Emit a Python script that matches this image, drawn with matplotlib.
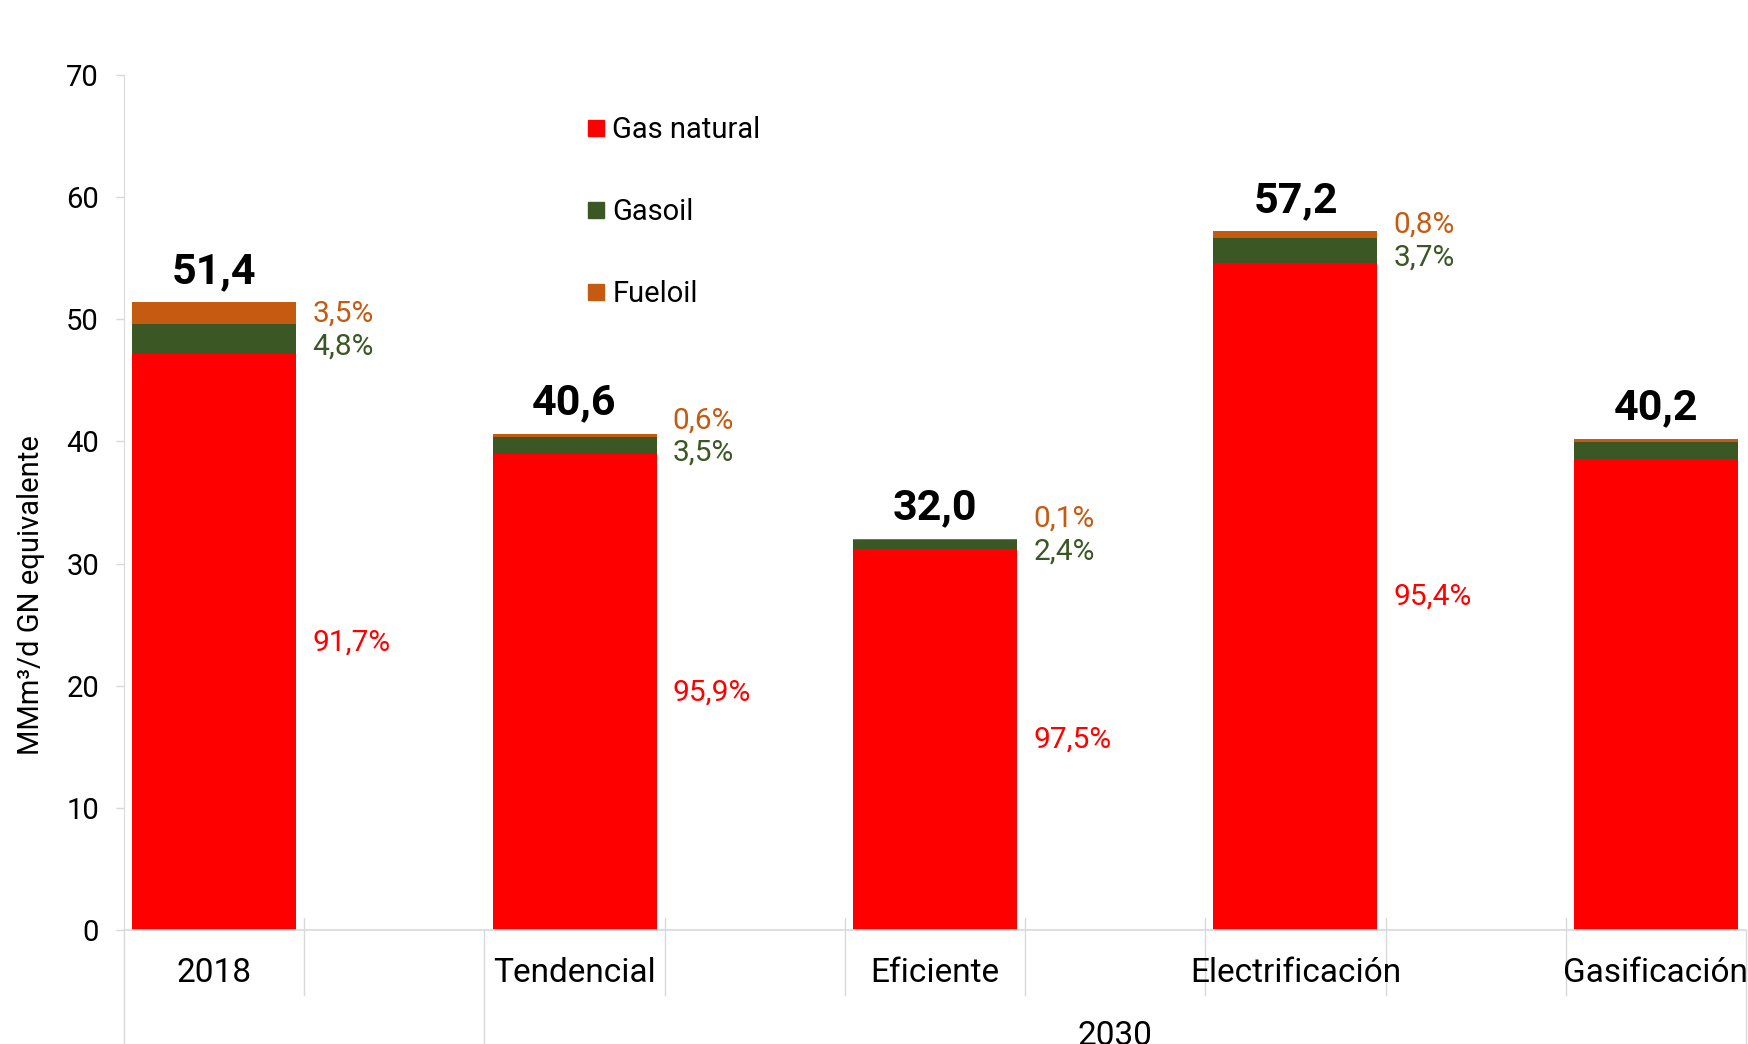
import matplotlib.pyplot as plt
from matplotlib.lines import Line2D
import numpy as np

plt.rcParams['font.family'] = ['Roboto', 'DejaVu Sans']

# data
categories = ["2018", "Tendencial", "Eficiente", "Electrificación", "Gasificación"]
totals = [51.4, 40.6, 32.0, 57.2, 40.2]
share_gn = [91.7, 95.9, 97.5, 95.4, 96.0]
share_gasoil = [4.8, 3.5, 2.4, 3.7, 3.3]
share_fueloil = [3.5, 0.6, 0.1, 0.8, 0.7]
show_pct = [True, True, True, True, False]   # last bar's labels fall outside the crop
group_labels = ["2030"]

series = ["Gas natural", "Gasoil", "Fueloil"]
colors = ["#FF0000", "#3B5724", "#C55A11"]

totals = np.array(totals)
gn = totals * np.array(share_gn) / 100
gasoil = totals * np.array(share_gasoil) / 100
fueloil = totals - gn - gasoil

W, H = 1748, 1044
fig = plt.figure(figsize=(W / 100, H / 100), dpi=100)
ax = fig.add_axes([124 / W, 1 - 930 / H, 1622 / W, 855 / H])

# one blank slot after each bar for the labels
x = np.arange(len(categories)) * 2
bw = 0.91
ax.bar(x, gn, bw, color=colors[0], label=series[0])
ax.bar(x, gasoil, bw, bottom=gn, color=colors[1], label=series[1])
ax.bar(x, fueloil, bw, bottom=gn + gasoil, color=colors[2], label=series[2])

ax.set_xlim(-0.5, 2 * len(categories) - 1.5)
ax.set_ylim(0, 70)
ax.set_yticks(range(0, 71, 10))
ax.tick_params(axis='y', labelsize=21, length=6, width=1, color="#D9D9D9", pad=12)
ax.set_xticks([])
for s in ["top", "right"]:
    ax.spines[s].set_visible(False)
ax.spines["left"].set_color("#D9D9D9")
ax.spines["bottom"].set_color("#D9D9D9")
ax.spines["bottom"].set_linewidth(1.2)

# totals on top
for xi, t in zip(x, totals):
    ax.annotate(f"{t:.1f}".replace(".", ","), (xi, t), xytext=(0, 14),
                textcoords="offset points", ha="center", va="baseline",
                fontsize=31, fontweight="bold")

# percentage labels beside bars
for xi, g, go, p1, p2, p3, show in zip(x, gn, gasoil, share_gn, share_gasoil,
                                       share_fueloil, show_pct):
    if not show:
        continue
    lx = xi + bw / 2 + 0.09
    y_go = g + go / 2 - 0.6
    ax.text(lx, g / 2, f"{p1:.1f}%".replace(".", ","), color=colors[0],
            fontsize=21.5, va="center", ha="left")
    ax.text(lx, y_go, f"{p2:.1f}%".replace(".", ","), color=colors[1],
            fontsize=21.5, va="center", ha="left")
    ax.text(lx, y_go + 2.7, f"{p3:.1f}%".replace(".", ","), color=colors[2],
            fontsize=21.5, va="center", ha="left")

# category axis: labels and separators below the plot
trans = ax.get_xaxis_transform()
for xi, c in zip(x, categories):
    ax.text(xi, -0.05, c, transform=trans, ha="center", va="center", fontsize=24)
n_slots = 2 * len(categories) - 1
for k in range(n_slots + 1):
    xs = k - 0.5
    long_line = k in (0, 2, n_slots)
    y0 = 0.0 if long_line else 0.014
    y1 = -0.14 if long_line else -0.076
    ax.plot([xs, xs], [y0, y1], transform=trans, color="#D9D9D9", lw=1, clip_on=False)
ax.text((1.5 + n_slots - 0.5) / 2, -0.124, group_labels[0], transform=trans,
        ha="center", va="center", fontsize=24)

fig.text(31 / W, 1 - 595 / H, "MMm³/d GN equivalente", rotation=90,
         ha="center", va="center", fontsize=21)

handles = [Line2D([], [], marker="s", color=c, linestyle="", markersize=11)
           for c in colors]
fig.legend(handles, series, loc="upper left", bbox_to_anchor=(586 / W, 1 - 116 / H),
           frameon=False, fontsize=21, handlelength=0.7, handletextpad=0.2,
           labelspacing=1.85, borderpad=0, borderaxespad=0)

fig.savefig("out.png", dpi=100)
